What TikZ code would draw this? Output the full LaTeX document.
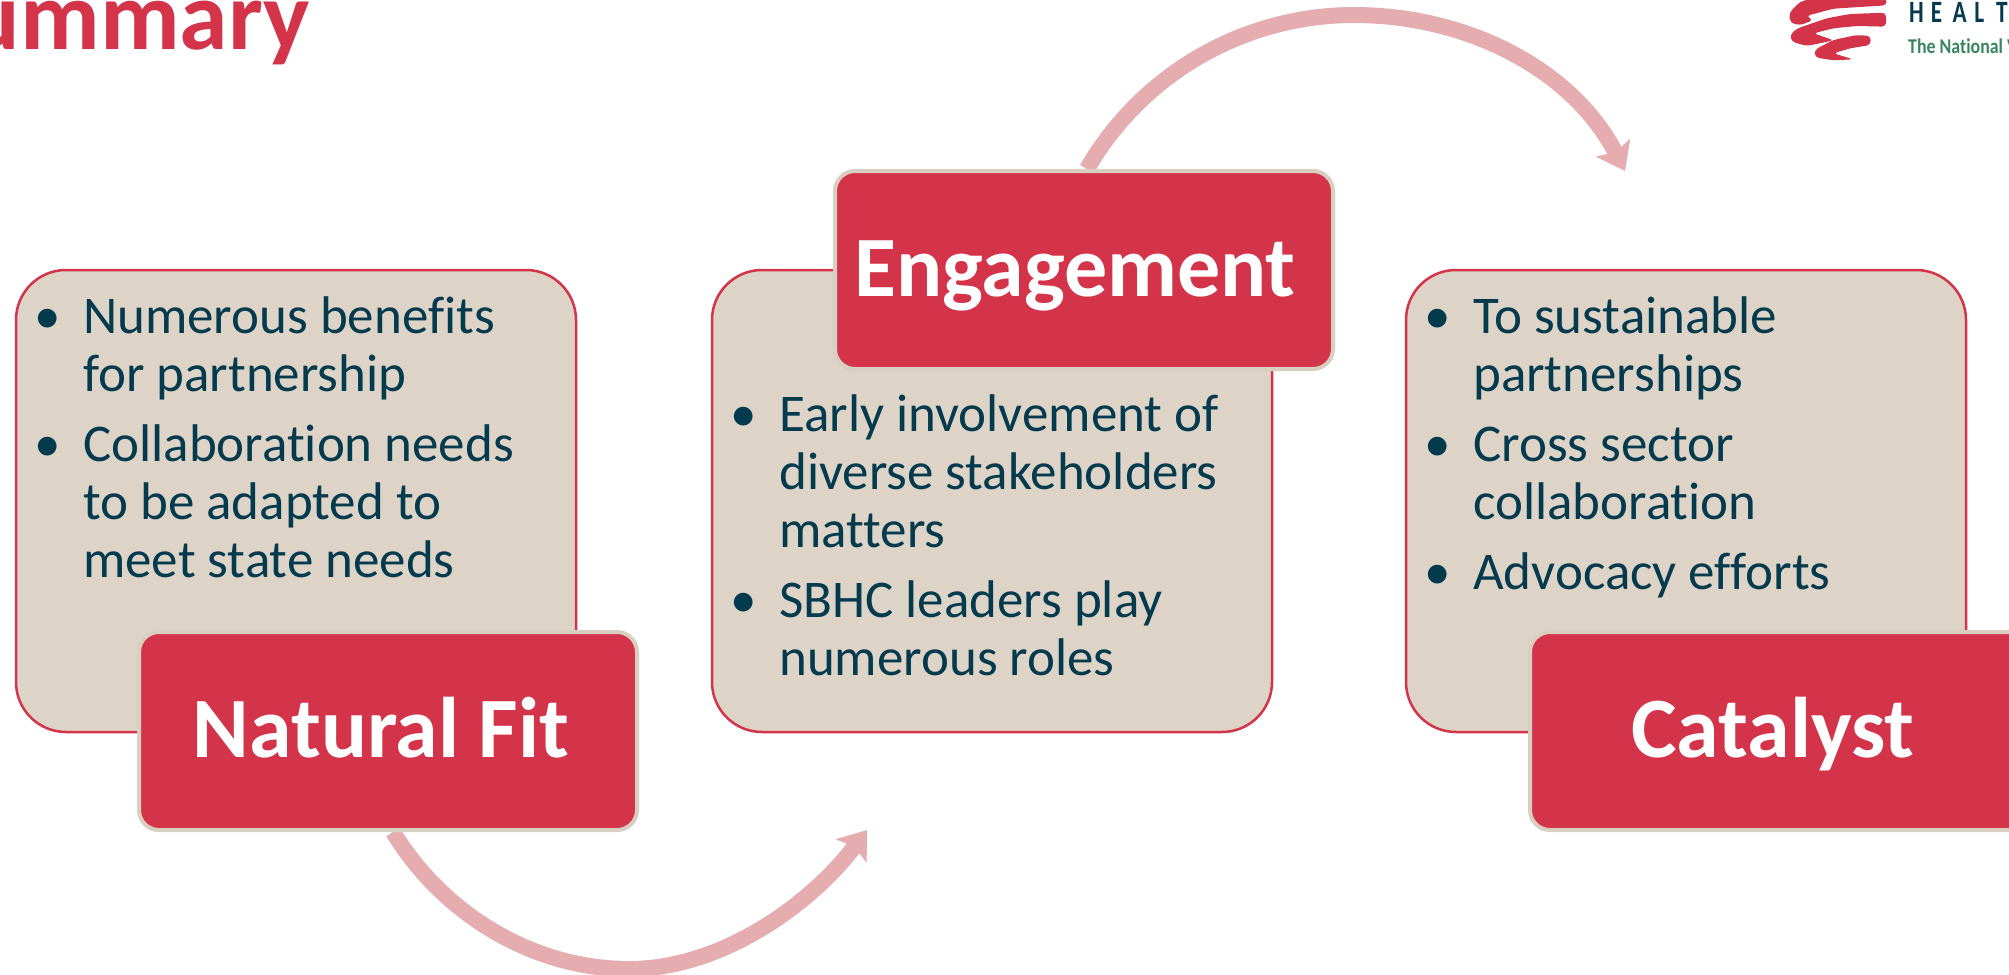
\documentclass[tikz,border=0pt]{standalone}
\usepackage{fontspec}
\setmainfont[Ligatures=NoCommon]{Carlito}
\usetikzlibrary{arrows.meta, backgrounds}
\definecolor{hcred}{HTML}{D33449}
\definecolor{hctan}{HTML}{DED3C7}
\definecolor{hcedge}{HTML}{D8CFC0}
\definecolor{hcpink}{HTML}{E6ADB1}
\definecolor{hcnavy}{HTML}{043A4D}
\definecolor{hcgreen}{HTML}{3A8560}
\newcommand{\bul}{\leavevmode\llap{\textbullet\hspace{22pt}}}
\newcommand{\spc}[1]{\makebox[21.7pt][l]{#1}}
\tikzset{
  infobox/.style={draw=hcred, line width=2.5pt, fill=hctan, rounded corners=50pt,
    minimum width=560pt, minimum height=462pt},
  infotext/.style={anchor=north west, inner sep=0pt, align=left, text=hcnavy,
    font=\fontsize{53}{58}\selectfont},
  headbox/.style={draw=hcedge, line width=4pt, fill=hcred, rounded corners=20pt,
    minimum width=498pt, minimum height=198pt, text=white, text height=72pt, text depth=20pt,
    font=\fontsize{86}{90}\selectfont\bfseries},
  flow/.style={draw=hcpink, line width=16pt,
    -{Stealth[length=26pt, width=38pt, inset=5pt, fill=hcpink]}},
}
\begin{document}
\begin{tikzpicture}[x=1pt, y=-1pt]
    \useasboundingbox (0, 0) rectangle (2009, 974);

    % title and logo
    \node[anchor=base east, inner sep=0pt, text=hcred, font=\fontsize{98}{98}\selectfont\bfseries] (title) at (310, 50) {Summary};
    \begin{scope}[shift={(1700, 0)}, x=0.3333pt, y=-0.3333pt]
      \fill[hcred, rounded corners=4pt] (560, -5) -- (560, 16) -- (400, 26) -- (318, 48) -- (340, 60) -- (300, 76) -- (270, 68) -- (268, 38) -- (300, 5) -- (340, -5) -- cycle;
      \fill[hcred, rounded corners=4pt] (558, 38) -- (558, 80) -- (470, 78) -- (400, 85) -- (340, 100) -- (402, 121) -- (320, 138) -- (275, 125) -- (270, 105) -- (290, 86) -- (380, 55) -- (450, 42) -- cycle;
      \fill[hcred, rounded corners=4pt] (512, 108) -- (512, 135) -- (450, 145) -- (400, 160) -- (460, 178) -- (400, 181) -- (345, 172) -- (343, 150) -- (400, 120) -- (470, 105) -- cycle;
    \end{scope}
    \node[anchor=base west, inner sep=0pt, text=hcnavy, font=\fontsize{31}{31}\selectfont\bfseries\addfontfeature{FakeStretch=0.75}] (health) at (1909, 23) {\spc{H}\spc{E}\spc{A}\spc{L}T};
    \node[anchor=base west, inner sep=0pt, text=hcgreen, font=\fontsize{21}{21}\selectfont\bfseries\addfontfeature{FakeStretch=0.85}] (national) at (1908, 54) {The National V};

    % text boxes
    \node[infobox] (natfitbox) at (296, 501) {};
    \node[infobox] (engagebox) at (992, 501) {};
    \node[infobox] (catalystbox) at (1686, 501) {};
    \node[infotext] (natfittext) at (83, 296) {\bul Numerous benefits\\for partnership\\[12pt]\bul Collaboration needs\\to be adapted to\\meet state needs};
    \node[infotext] (engagetext) at (779, 394) {\bul Early involvement of\\diverse stakeholders\\matters\\[12pt]\bul SBHC leaders play\\numerous roles};
    \node[infotext] (catalysttext) at (1473, 296) {\bul To sustainable\\partnerships\\[12pt]\bul Cross sector\\collaboration\\[12pt]\bul Advocacy efforts};

    % headers
    \node[headbox] (natfit) at (388, 731) {Natural Fit\kern14pt};
    \node[headbox] (engage) at (1084, 270) {Engagement\kern18pt};
    \node[headbox] (catalyst) at (1779, 731) {Catalyst\kern12pt};

    % curved arrows
    \coordinate (natfitend) at (867, 830);
    \coordinate (engageend) at (1625, 171);
    \begin{pgfonlayer}{background}
      \draw[flow] ([xshift=5pt]natfit.south) .. controls (443, 914) and (533, 969) .. (629, 969) .. controls (722, 969) and (811, 904) .. (natfitend);
      \draw[flow] ([xshift=3pt]engage.north) .. controls (1143, 72) and (1246, 15) .. (1354, 15) .. controls (1468, 15) and (1573, 70) .. (engageend);
    \end{pgfonlayer}
\end{tikzpicture}
\end{document}
